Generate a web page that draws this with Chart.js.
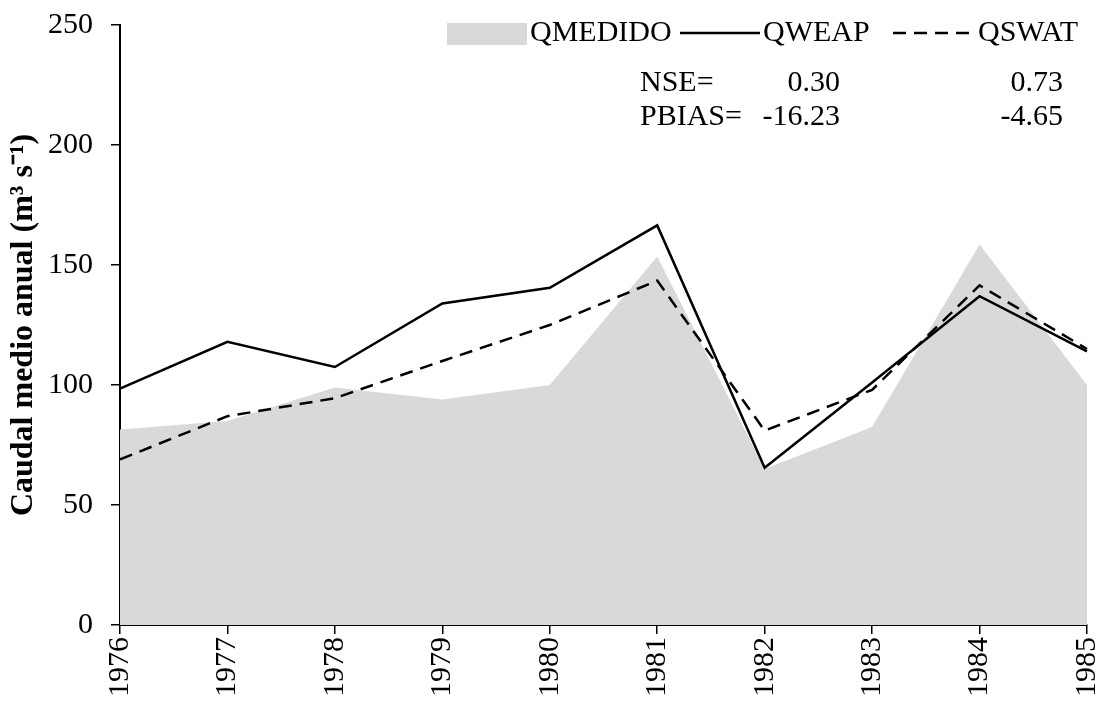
<!DOCTYPE html>
<html>
<head>
<meta charset="utf-8">
<script src="https://cdn.jsdelivr.net/npm/chart.js@4.4.1/dist/chart.umd.min.js"></script>
<style>
  html, body { margin: 0; padding: 0; background: #fff; }
  #myChart { display: block; }
</style>
</head>
<body>
<canvas id="myChart" width="1099" height="702"></canvas>
<script>
const years = ["1976", "1977", "1978", "1979", "1980", "1981", "1982", "1983", "1984", "1985"];
const qMedido = [81.5, 85, 99, 94, 100, 153.5, 65, 82.5, 158.5, 100];
const qWeap = [98.5, 118, 107.5, 134, 140.5, 166.5, 65.5, 101, 137, 114];
const qSwat = [69, 87, 94.5, 110, 125, 143.5, 81, 98, 141.5, 115];
const statRows = [["NSE=", "0.30", "0.73"], ["PBIAS=", "-16.23", "-4.65"]];

const serif = "'Liberation Serif', 'Times New Roman', serif";

// legend and NSE / PBIAS box drawn by hand, top right inside the plot
const legendBox = {
  id: "legendBox",
  afterDraw(chart) {
    const ctx = chart.ctx;
    ctx.save();
    ctx.font = "30px " + serif;
    ctx.fillStyle = "#000";
    ctx.textBaseline = "middle";
    ctx.textAlign = "left";
    const y = 33;
    ctx.fillStyle = "#d9d9d9";
    ctx.fillRect(447, 23, 80, 22);
    ctx.fillStyle = "#000";
    ctx.fillText("QMEDIDO", 530, y);
    ctx.strokeStyle = "#000";
    ctx.lineWidth = 2.5;
    ctx.beginPath();
    ctx.moveTo(680, y);
    ctx.lineTo(760, y);
    ctx.stroke();
    ctx.fillText("QWEAP", 763, y);
    ctx.setLineDash([13, 8]);
    ctx.beginPath();
    ctx.moveTo(893, y);
    ctx.lineTo(975, y);
    ctx.stroke();
    ctx.setLineDash([]);
    ctx.fillText("QSWAT", 978, y);

    statRows.forEach((row, i) => {
      const ry = 83 + i * 34;
      ctx.textAlign = "left";
      ctx.fillText(row[0], 640, ry);
      ctx.textAlign = "right";
      ctx.fillText(row[1], 840, ry);
      ctx.fillText(row[2], 1063, ry);
    });
    ctx.restore();
  }
};

new Chart(document.getElementById("myChart").getContext("2d"), {
  type: "line",
  data: {
    labels: years,
    datasets: [
      {
        label: "QMEDIDO",
        data: qMedido,
        fill: "origin",
        backgroundColor: "#d9d9d9",
        borderWidth: 0,
        borderColor: "rgba(0,0,0,0)",
        pointRadius: 0,
        tension: 0,
        order: 3
      },
      {
        label: "QWEAP",
        data: qWeap,
        fill: false,
        borderColor: "#000",
        borderWidth: 2.5,
        pointRadius: 0,
        tension: 0,
        order: 1
      },
      {
        label: "QSWAT",
        data: qSwat,
        fill: false,
        borderColor: "#000",
        borderWidth: 2.5,
        borderDash: [13, 8],
        pointRadius: 0,
        tension: 0,
        order: 2
      }
    ]
  },
  options: {
    responsive: false,
    animation: false,
    maintainAspectRatio: false,
    layout: { padding: { left: 0, right: 12, top: 25, bottom: 0 } },
    plugins: {
      legend: { display: false },
      tooltip: { enabled: false }
    },
    scales: {
      x: {
        type: "category",
        offset: false,
        grid: { drawOnChartArea: false, drawTicks: true, tickLength: 9, color: "#000", lineWidth: 1.5 },
        border: { display: true, color: "#000", width: 2 },
        ticks: {
          color: "#000",
          font: { family: serif, size: 30 },
          minRotation: 90,
          maxRotation: 90,
          padding: 3,
          autoSkip: false
        },
        afterFit(scale) {
          scale.height = 77;
          scale.paddingLeft = 0;
          scale.paddingRight = 0;
        }
      },
      y: {
        min: 0,
        max: 250,
        grid: { drawOnChartArea: false, drawTicks: true, tickLength: 9, color: "#000", lineWidth: 1.5 },
        border: { display: true, color: "#000", width: 2 },
        ticks: {
          stepSize: 50,
          color: "#000",
          font: { family: serif, size: 30 },
          padding: 18
        },
        title: {
          display: true,
          text: "Caudal medio anual (m³ s⁻¹)",
          color: "#000",
          font: { family: serif, size: 32, weight: "bold" },
          padding: 5
        },
        afterFit(scale) {
          scale.width = 120;
          scale.paddingTop = 0;
          scale.paddingBottom = 0;
        }
      }
    }
  },
  plugins: [legendBox]
});
</script>
</body>
</html>
